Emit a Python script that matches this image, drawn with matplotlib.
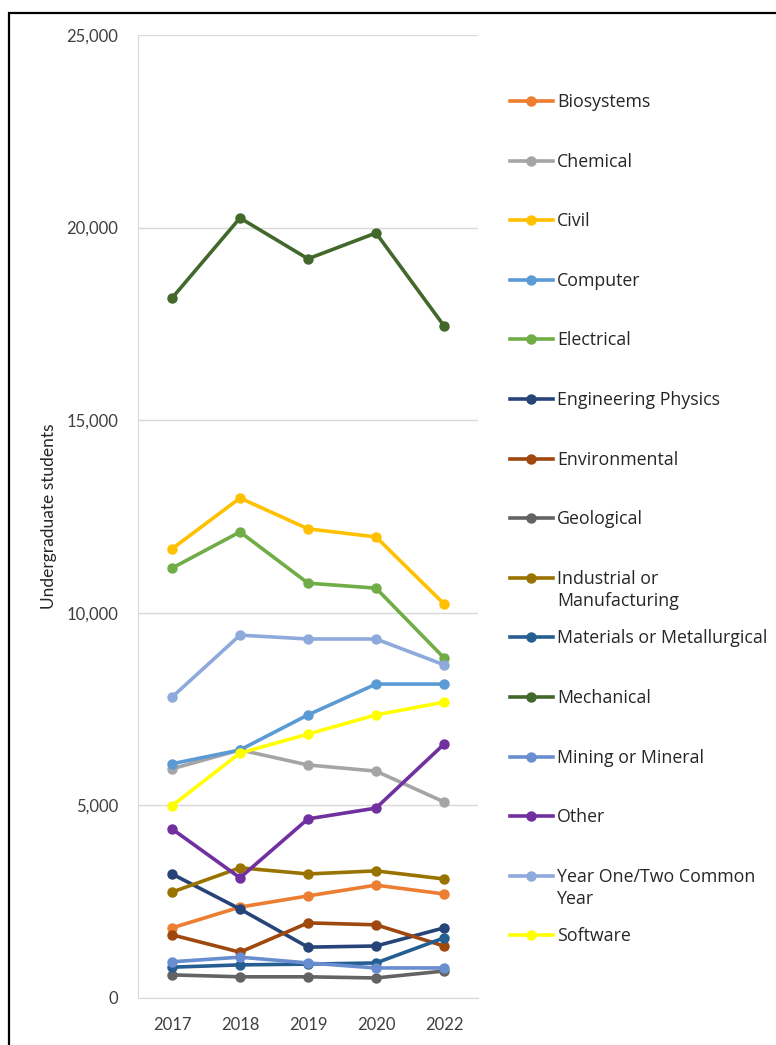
import matplotlib
matplotlib.use("Agg")
import matplotlib.pyplot as plt
from matplotlib.patches import Rectangle
from matplotlib.ticker import FuncFormatter

plt.rcParams['font.family'] = ['Lato', 'DejaVu Sans']

years = ['2017', '2018', '2019', '2020', '2022']

names = ['Biosystems', 'Chemical', 'Civil', 'Computer', 'Electrical',
         'Engineering Physics', 'Environmental', 'Geological',
         'Industrial or\nManufacturing', 'Materials or Metallurgical',
         'Mechanical', 'Mining or Mineral', 'Other',
         'Year One/Two Common\nYear', 'Software']

biosystems = [1820, 2360, 2650, 2930, 2700]
chemical = [5950, 6440, 6050, 5890, 5090]
civil = [11660, 12980, 12180, 11970, 10230]
computer = [6080, 6440, 7350, 8150, 8150]
electrical = [11160, 12100, 10770, 10640, 8830]
eng_physics = [3220, 2310, 1320, 1350, 1820]
environmental = [1640, 1190, 1950, 1900, 1350]
geological = [600, 550, 550, 520, 700]
industrial = [2750, 3380, 3220, 3300, 3090]
materials = [800, 860, 880, 910, 1560]
mechanical = [18170, 20250, 19190, 19860, 17450]
mining = [940, 1060, 910, 780, 780]
other = [4390, 3120, 4650, 4930, 6590]
common_year = [7810, 9420, 9320, 9320, 8650]
software = [4990, 6360, 6850, 7350, 7680]

series = [biosystems, chemical, civil, computer, electrical, eng_physics,
          environmental, geological, industrial, materials, mechanical,
          mining, other, common_year, software]

colors = ['#ED7D31', '#A5A5A5', '#FFC000', '#5B9BD5', '#70AD47', '#264478',
          '#9E480E', '#636363', '#997300', '#255E91', '#43682B', '#698ED0',
          '#7030A0', '#8EA9DB', '#FFFF00']

W, H = 776, 1045
fig = plt.figure(figsize=(W / 100, H / 100), dpi=100)

ax = fig.add_axes([138 / W, 1 - 998 / H, 340 / W, 963 / H])
x = range(len(years))
for vals, c in zip(series, colors):
    ax.plot(x, vals, color=c, lw=2.6, marker='o', ms=6.5, solid_capstyle='round')

ax.set_xlim(-0.5, len(years) - 0.5)
ax.set_ylim(0, 25000)
ax.set_yticks(range(0, 25001, 5000))
ax.yaxis.set_major_formatter(FuncFormatter(lambda v, p: f'{int(v):,}'))
ax.set_xticks(list(x))
ax.set_xticklabels(years)
ax.grid(axis='y', color='#D9D9D9', lw=1)
ax.set_axisbelow(True)
for s in ['top', 'right']:
    ax.spines[s].set_visible(False)
for s in ['left', 'bottom']:
    ax.spines[s].set_color('#D9D9D9')
ax.tick_params(length=0, colors='#404040', labelsize=12)
ax.tick_params(axis='y', pad=14)
ax.tick_params(axis='x', pad=14)
ax.set_ylabel('Undergraduate students', fontsize=12.5, color='#262626', labelpad=7)

# legend, Excel style: fixed pitch, wrapped labels hang below
lax = fig.add_axes([0, 0, 1, 1], facecolor='none')
lax.set_xlim(0, W)
lax.set_ylim(H, 0)
lax.axis('off')
pitch = 59.6
for i, (name, c) in enumerate(zip(names, colors)):
    yy = 101 + i * pitch
    lax.plot([510, 553], [yy, yy], color=c, lw=2.6)
    lax.plot([531], [yy], color=c, marker='o', ms=6.5)
    lax.text(557, yy - 8, name, fontsize=12.8, family='Open Sans',
             color='#262626', va='top', ha='left', linespacing=1.3,
             clip_on=False)

fig.patches.append(Rectangle((9 / W, -0.1), 1.2, 1 - 13 / H + 0.1,
                             transform=fig.transFigure, fill=False,
                             edgecolor='black', lw=1.6))

fig.savefig('out.png', dpi=100)
